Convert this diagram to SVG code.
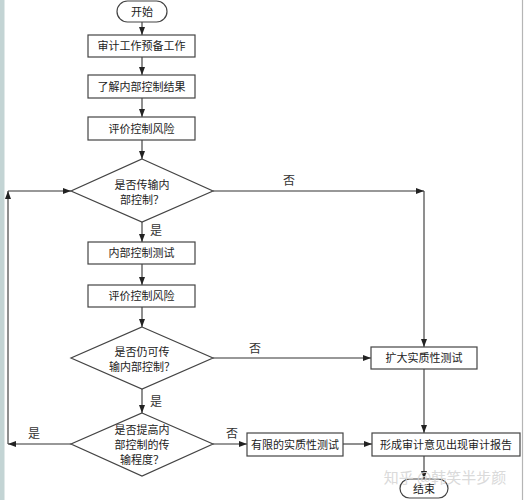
<svg xmlns="http://www.w3.org/2000/svg" width="525" height="500" viewBox="0 0 525 500">
<style>
.shape{fill:#fff;stroke:#444;stroke-width:1.2}
.t{font-family:"Noto Sans CJK SC","Liberation Sans",sans-serif;font-size:11px;fill:#222;text-anchor:middle}
.lbl{font-family:"Noto Sans CJK SC","Liberation Sans",sans-serif;font-size:12px;fill:#333;text-anchor:middle}
.c{stroke:#333;stroke-width:1.1;fill:none;marker-end:url(#ah)}
.wm{font-family:"Noto Sans CJK SC","Liberation Sans",sans-serif;font-size:15px;fill:#d6d6d6;text-anchor:middle;opacity:0.9}
</style>
<defs>
<marker id="ah" markerWidth="8" markerHeight="6" refX="8" refY="3" orient="auto" markerUnits="userSpaceOnUse">
<path d="M0,0 L8,3 L0,6 Z" fill="#222"/>
</marker>
</defs>
<rect x="0" y="0" width="525" height="500" fill="#fff"/>
<rect x="0" y="0" width="4.5" height="500" fill="#c3d4d4"/>
<line x1="522.5" y1="0" x2="522.5" y2="500" stroke="#b5b5b5" stroke-width="1.2"/>

<g id="connectors">
<line class="c" x1="142" y1="22" x2="142" y2="35"/>
<line class="c" x1="142" y1="57" x2="142" y2="75"/>
<line class="c" x1="142" y1="98" x2="142" y2="117"/>
<line class="c" x1="142" y1="140" x2="142" y2="159"/>
<line class="c" x1="142" y1="222" x2="142" y2="242"/>
<line class="c" x1="142" y1="264" x2="142" y2="285"/>
<line class="c" x1="142" y1="307" x2="142" y2="327"/>
<line class="c" x1="142" y1="389" x2="142" y2="413"/>
<line class="c" x1="213" y1="191" x2="424" y2="191"/>
<line class="c" x1="424" y1="191" x2="424" y2="347"/>
<line class="c" x1="213" y1="358" x2="371" y2="358"/>
<line class="c" x1="424" y1="369" x2="424" y2="433"/>
<line class="c" x1="213" y1="444" x2="247" y2="444"/>
<line class="c" x1="343" y1="444" x2="372" y2="444"/>
<line class="c" x1="424" y1="456" x2="424" y2="479"/>
<line class="c" x1="71" y1="444" x2="8" y2="444"/>
<line class="c" x1="8" y1="444" x2="8" y2="191"/>
<line class="c" x1="8" y1="191" x2="71" y2="191"/>
<text class="lbl" x="156" y="235">是</text>
<text class="lbl" x="156" y="406">是</text>
<text class="lbl" x="289" y="185">否</text>
<text class="lbl" x="255" y="353">否</text>
<text class="lbl" x="232" y="438">否</text>
<text class="lbl" x="34" y="438">是</text>
</g>

<g id="start">
<rect class="shape" x="117" y="1" width="50" height="21" rx="10.5"/>
<text class="t" x="142" y="15.5">开始</text>
</g>
<g id="prep">
<rect class="shape" x="88" y="35" width="107" height="22"/>
<text class="t" x="141.5" y="50">审计工作预备工作</text>
</g>
<g id="understand">
<rect class="shape" x="88" y="75" width="107" height="23"/>
<text class="t" x="141.5" y="90.5">了解内部控制结果</text>
</g>
<g id="evaluate1">
<rect class="shape" x="88" y="117" width="107" height="23"/>
<text class="t" x="141.5" y="132.5">评价控制风险</text>
</g>
<g id="decision1">
<polygon class="shape" points="142,159 213,191 142,222 71,191"/>
<text class="t" x="142" y="189">是否传输内</text>
<text class="t" x="142" y="204">部控制？</text>
</g>
<g id="test">
<rect class="shape" x="88" y="242" width="107" height="22"/>
<text class="t" x="141.5" y="257">内部控制测试</text>
</g>
<g id="evaluate2">
<rect class="shape" x="88" y="285" width="107" height="22"/>
<text class="t" x="141.5" y="300">评价控制风险</text>
</g>
<g id="decision2">
<polygon class="shape" points="142,327 213,358 142,389 71,358"/>
<text class="t" x="142" y="356">是否仍可传</text>
<text class="t" x="142" y="371">输内部控制？</text>
</g>
<g id="decision3">
<polygon class="shape" points="142,413 213,444 142,476 71,444"/>
<text class="t" x="142" y="434">是否提高内</text>
<text class="t" x="142" y="449">部控制的传</text>
<text class="t" x="142" y="464">输程度？</text>
</g>
<g id="expand">
<rect class="shape" x="371" y="347" width="106" height="22"/>
<text class="t" x="424" y="362">扩大实质性测试</text>
</g>
<g id="limited">
<rect class="shape" x="247" y="433" width="96" height="23"/>
<text class="t" x="295" y="448.5">有限的实质性测试</text>
</g>
<g id="report">
<rect class="shape" x="372" y="433" width="148" height="23"/>
<text class="t" x="446" y="448.5">形成审计意见出现审计报告</text>
</g>
<g id="end">
<rect class="shape" x="400" y="479" width="48" height="19" rx="9.5"/>
<text class="t" x="424" y="492.5">结束</text>
</g>
<text class="wm" x="445" y="483">知乎 @韩笑半步颜</text>
</svg>
